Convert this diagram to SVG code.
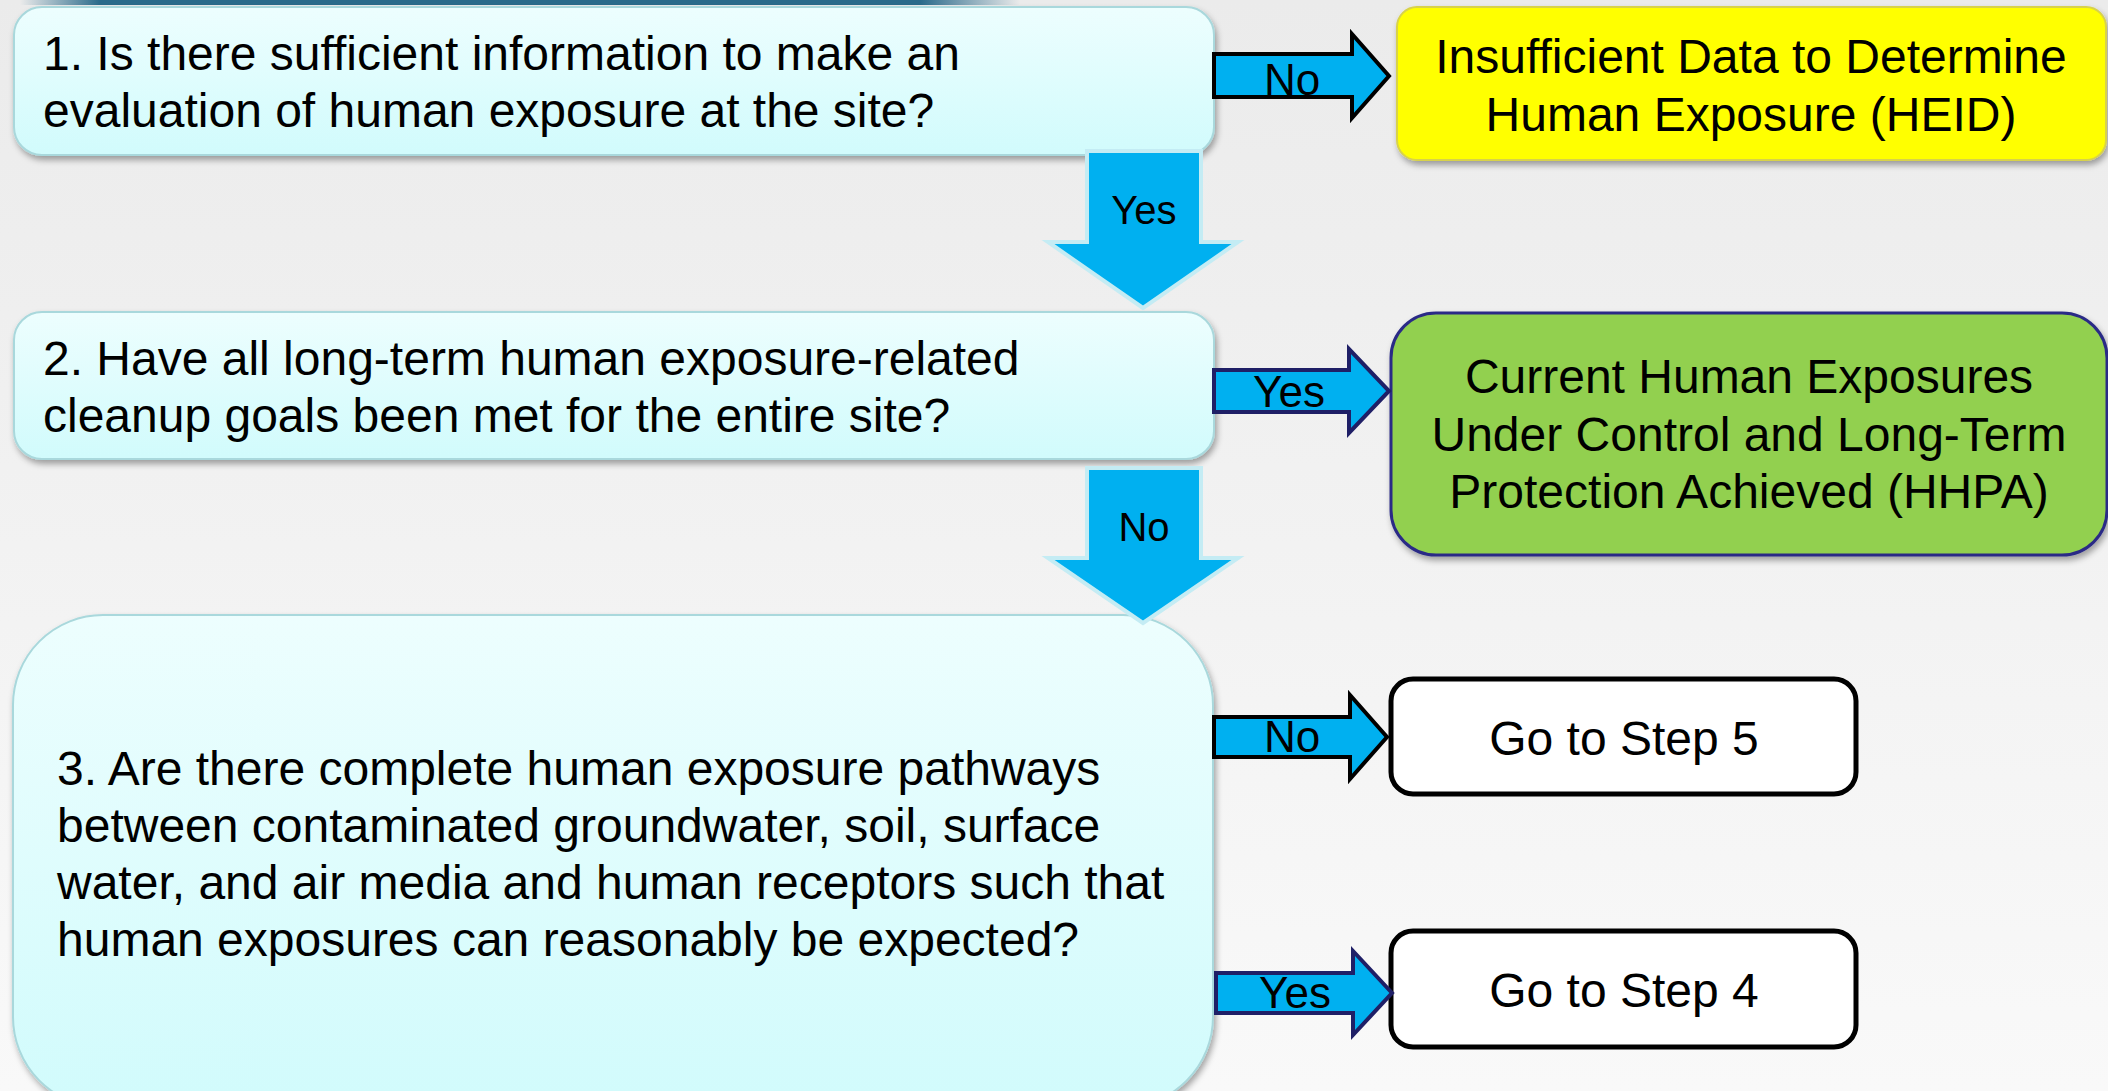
<svg xmlns="http://www.w3.org/2000/svg" width="2108" height="1091" viewBox="0 0 2108 1091">
<defs>
<linearGradient id="bg" x1="0" y1="0" x2="0" y2="1">
<stop offset="0" stop-color="#ebebeb"/>
<stop offset="1" stop-color="#f9f9f9"/>
</linearGradient>
<linearGradient id="cyan" x1="0" y1="0" x2="0" y2="1">
<stop offset="0" stop-color="#edfefe"/>
<stop offset="1" stop-color="#d1fbfc"/>
</linearGradient>
<linearGradient id="strip" x1="0" y1="0" x2="1" y2="0">
<stop offset="0" stop-color="#2a6a8a" stop-opacity="0"/>
<stop offset="0.08" stop-color="#2a6a8a"/>
<stop offset="0.9" stop-color="#2a6a8a"/>
<stop offset="1" stop-color="#2a6a8a" stop-opacity="0"/>
</linearGradient>
<filter id="sh" x="-5%" y="-10%" width="115%" height="130%">
<feDropShadow dx="2" dy="4" stdDeviation="3" flood-color="#000" flood-opacity="0.35"/>
</filter>
<style>
.q{fill:url(#cyan);stroke:#a9d8dc;stroke-width:2}
.t{font-family:"Liberation Sans",Arial,sans-serif;font-size:48px;fill:#000}
.c{text-anchor:middle}
.lbl{font-family:"Liberation Sans",Arial,sans-serif;font-size:44px;fill:#000;text-anchor:middle}
.dl{font-family:"Liberation Sans",Arial,sans-serif;font-size:40px;fill:#000;text-anchor:middle}
.down{fill:#00b0f0;stroke:#c4ecf4;stroke-width:4;stroke-linejoin:miter}
.rk{fill:#00b0f0;stroke:#000;stroke-width:4}
.rn{fill:#00b0f0;stroke:#1f1f66;stroke-width:4}
</style>
</defs>
<rect width="2108" height="1091" fill="url(#bg)"/>
<rect x="20" y="0" width="1000" height="5" fill="url(#strip)"/>

<g id="q1">
<rect class="q" x="14" y="7" width="1200" height="148" rx="28" filter="url(#sh)"/>
<text class="t" x="43" y="70">1. Is there sufficient information to make an</text>
<text class="t" x="43" y="127">evaluation of human exposure at the site?</text>
</g>
<g id="q2">
<rect class="q" x="14" y="312" width="1200" height="147" rx="28" filter="url(#sh)"/>
<text class="t" x="43" y="375">2. Have all long-term human exposure-related</text>
<text class="t" x="43" y="432">cleanup goals been met for the entire site?</text>
</g>
<g id="q3">
<rect class="q" x="13" y="615" width="1200" height="492" rx="90" filter="url(#sh)"/>
<text class="t" x="57" y="785">3. Are there complete human exposure pathways</text>
<text class="t" x="57" y="842">between contaminated groundwater, soil, surface</text>
<text class="t" x="57" y="899">water, and air media and human receptors such that</text>
<text class="t" x="57" y="956">human exposures can reasonably be expected?</text>
</g>
<g id="heid">
<rect x="1397" y="7" width="709" height="153" rx="20" fill="#ffff00" stroke="#d8d24a" stroke-width="2" filter="url(#sh)"/>
<text class="t c" x="1751" y="73">Insufficient Data to Determine</text>
<text class="t c" x="1751" y="131">Human Exposure (HEID)</text>
</g>
<g id="hhpa">
<rect x="1391" y="313" width="716" height="242" rx="45" fill="#92d050" stroke="#2b2b86" stroke-width="3" filter="url(#sh)"/>
<text class="t c" x="1749" y="393">Current Human Exposures</text>
<text class="t c" x="1749" y="451">Under Control and Long-Term</text>
<text class="t c" x="1749" y="508">Protection Achieved (HHPA)</text>
</g>
<g id="step5">
<rect x="1391" y="679" width="465" height="115" rx="22" fill="#fff" stroke="#000" stroke-width="5"/>
<text class="t c" x="1624" y="755">Go to Step 5</text>
</g>
<g id="step4">
<rect x="1391" y="931" width="465" height="116" rx="22" fill="#fff" stroke="#000" stroke-width="5"/>
<text class="t c" x="1624" y="1007">Go to Step 4</text>
</g>

<g id="connectors">
<polygon class="down" points="1087,151 1201,151 1201,242 1238,242 1143,308 1048,242 1087,242"/>
<text class="dl" x="1144" y="224">Yes</text>
<polygon class="down" points="1087,468 1201,468 1201,558 1238,558 1143,623 1048,558 1087,558"/>
<text class="dl" x="1144" y="541">No</text>
<polygon class="rk" points="1214,54 1352,54 1352,34 1389,76 1352,118 1352,97 1214,97"/>
<text class="lbl" x="1292" y="95">No</text>
<polygon class="rn" points="1214,370 1349,370 1349,349 1389,391 1349,433 1349,412 1214,412"/>
<text class="lbl" x="1289" y="407">Yes</text>
<polygon class="rk" points="1214,717 1350,717 1350,695 1387,737 1350,779 1350,757 1214,757"/>
<text class="lbl" x="1292" y="752">No</text>
<polygon class="rn" points="1216,973 1353,973 1353,951 1392,993 1353,1035 1353,1013 1216,1013"/>
<text class="lbl" x="1295" y="1008">Yes</text>
</g>
</svg>
